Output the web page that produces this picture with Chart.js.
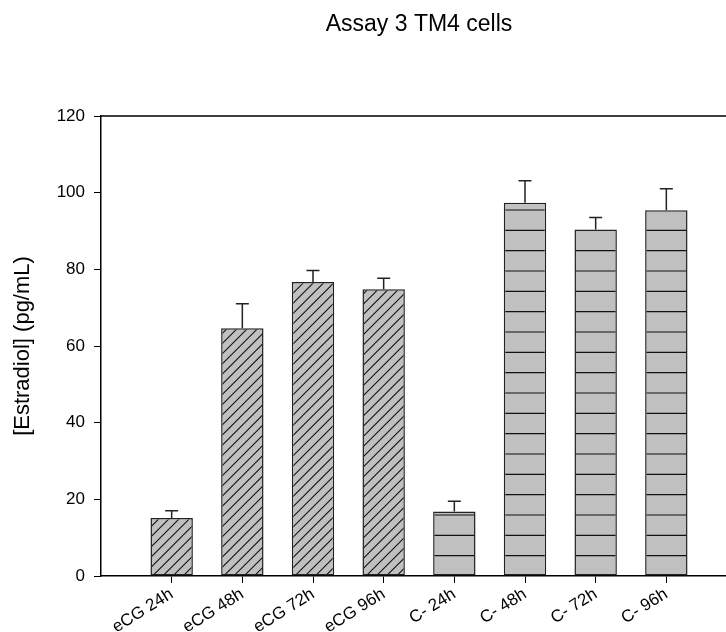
<!DOCTYPE html>
<html>
<head>
<meta charset="utf-8">
<title>Assay 3 TM4 cells</title>
<script src="https://cdn.jsdelivr.net/npm/chart.js@4.4.1/dist/chart.umd.min.js"></script>
<style>
  html, body { margin: 0; padding: 0; background: #fff; overflow: hidden; }
  #wrap { width: 740px; height: 632px; }
</style>
</head>
<body>
<div id="wrap"><canvas id="assay" width="740" height="632"></canvas></div>
<script>
// ---- Data ----------------------------------------------------------------
const title = "Assay 3 TM4 cells";
const yTitle = "[Estradiol] (pg/mL)";
const categories = ["eCG 24h", "eCG 48h", "eCG 72h", "eCG 96h", "C- 24h", "C- 48h", "C- 72h", "C- 96h"];
const means  = [15.1, 64.6, 76.7, 74.8, 16.8, 97.4, 90.4, 95.4];
const errors = [1.9, 6.4, 3.0, 2.9, 2.7, 5.7, 3.1, 5.6];
const yTicks = [0, 20, 40, 60, 80, 100, 120];

// ---- Style ---------------------------------------------------------------
const FONT = '"Liberation Sans", Arial, sans-serif';
const FILL = "#c0c0c0";

// hatch tiles, anchored on the x axis line so stripes start from the base
const patternCache = {};
const hatch = (kind, bottom) => {
  const key = kind + ":" + bottom;
  if (patternCache[key]) return patternCache[key];
  const T = 61;
  const c = document.createElement("canvas");
  c.width = T; c.height = T;
  const g = c.getContext("2d");
  g.fillStyle = FILL;
  g.fillRect(0, 0, T, T);
  g.strokeStyle = "#111";
  g.lineWidth = 1.1;
  g.beginPath();
  const y0 = bottom % T;
  if (kind === "horiz") {
    const p = T / 3;
    for (let k = -4; k <= 4; k++) {
      const y = y0 + k * p;
      if (y < -2 || y > T + 2) continue;
      g.moveTo(-1, y); g.lineTo(T + 1, y);
    }
  } else {
    const p = T / 6;
    for (let k = -20; k <= 20; k++) {
      const s = y0 + k * p;               // line x + y = s
      if (s < -p || s > 2 * T + p) continue;
      g.moveTo(s + 2, -2); g.lineTo(s - T - 2, T + 2);
    }
  }
  g.stroke();
  const pat = g.createPattern(c, "repeat");
  patternCache[key] = pat;
  return pat;
};

// ---- Plugins -------------------------------------------------------------
const errorBars = {
  id: "errorBars",
  afterDatasetsDraw(chart) {
    const { ctx } = chart;
    const y = chart.scales.y;
    const meta = chart.getDatasetMeta(0);
    ctx.save();
    ctx.strokeStyle = "#222";
    ctx.lineWidth = 1.5;
    meta.data.forEach((bar, i) => {
      const top = y.getPixelForValue(means[i] + errors[i]);
      ctx.beginPath();
      ctx.moveTo(bar.x, bar.y);
      ctx.lineTo(bar.x, top);
      ctx.moveTo(bar.x - 6.5, top);
      ctx.lineTo(bar.x + 6.5, top);
      ctx.stroke();
    });
    ctx.restore();
  }
};

const frame = {
  id: "frame",
  afterDraw(chart) {
    const { ctx, chartArea: a } = chart;
    ctx.save();
    ctx.strokeStyle = "#000";
    ctx.lineWidth = 1.5;
    ctx.beginPath();
    ctx.moveTo(a.left, a.top);
    ctx.lineTo(a.right, a.top);
    ctx.lineTo(a.right, a.bottom);
    ctx.stroke();
    ctx.fillStyle = "#000";
    ctx.font = "23px " + FONT;
    ctx.textAlign = "center";
    ctx.textBaseline = "alphabetic";
    ctx.fillText(title, (a.left + a.right) / 2, a.top - 85);
    ctx.restore();
  }
};

// ---- Chart ---------------------------------------------------------------
new Chart(document.getElementById("assay"), {
  type: "bar",
  data: {
    datasets: [{
      data: means.map((v, i) => ({ x: i, y: v })),
      backgroundColor: (ctx) => {
        const a = ctx.chart.chartArea;
        if (!a) return FILL;
        return hatch(ctx.dataIndex < 4 ? "diag" : "horiz", Math.round(a.bottom));
      },
      borderColor: "#222",
      borderWidth: 1.5,
      borderSkipped: false,
      barPercentage: 0.6,
      categoryPercentage: 1
    }]
  },
  options: {
    responsive: false,
    devicePixelRatio: 1,
    animation: false,
    layout: { padding: { left: 0, right: 3, top: 116, bottom: 0 } },
    plugins: { legend: { display: false }, tooltip: { enabled: false } },
    scales: {
      x: {
        type: "linear",
        offset: false,
        min: -1,
        max: 8,
        afterBuildTicks: (s) => { s.ticks = categories.map((_, i) => ({ value: i })); },
        afterFit: (s) => { s.height = 56; },
        grid: { offset: false, drawOnChartArea: false, color: "#000", lineWidth: 1, tickLength: 7 },
        border: { color: "#000", width: 1.5 },
        ticks: {
          autoSkip: false,
          maxRotation: 32,
          minRotation: 32,
          padding: 1,
          color: "#000",
          font: { family: FONT, size: 17 },
          callback: (v) => categories[v]
        }
      },
      y: {
        min: 0,
        max: 120,
        afterBuildTicks: (s) => { s.ticks = yTicks.map((v) => ({ value: v })); },
        afterFit: (s) => { s.width = 101; },
        grid: { drawOnChartArea: false, color: "#000", lineWidth: 1, tickLength: 7 },
        border: { color: "#000", width: 1.5 },
        ticks: { padding: 9, color: "#000", font: { family: FONT, size: 17 } },
        title: {
          display: true,
          text: yTitle,
          color: "#000",
          font: { family: FONT, size: 22 },
          padding: { top: 10, bottom: 0 }
        }
      }
    }
  },
  plugins: [errorBars, frame]
});
</script>
</body>
</html>
